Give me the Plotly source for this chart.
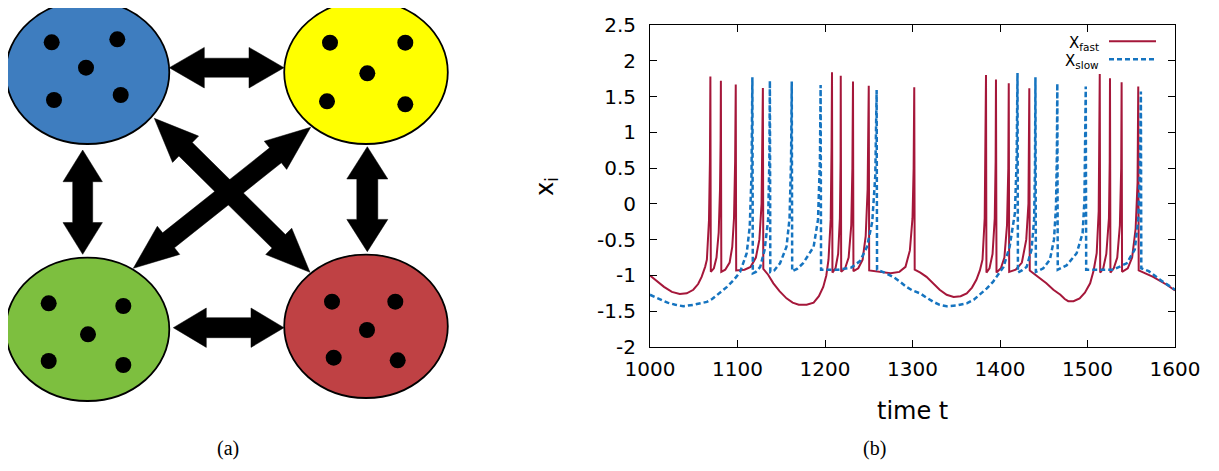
import plotly.graph_objects as go

# page offset of the plot div (body margin) and figure size
OX, OY = 8, 8
W, H = 1219 - OX, 471 - OY

# ---------------- chart data ----------------
t_fast = [1000, 1008, 1016, 1025, 1034, 1042, 1049.5, 1055, 1059, 1063, 1065, 1067.4, 1068.5, 1069,
          1069.5, 1073, 1076, 1078.5, 1080, 1080.7, 1081,
          1081.5, 1086, 1091, 1094, 1096, 1097.3, 1098,
          1098.5, 1108, 1115, 1121, 1125, 1127.5, 1128.5, 1129,
          1129.5, 1135, 1141, 1148, 1156, 1163, 1170, 1179, 1187, 1193, 1198, 1201.5, 1204, 1206.5, 1207.5, 1208,
          1208.5, 1212, 1215, 1217, 1217.8, 1218,
          1218.5, 1223, 1227, 1230, 1231.3, 1232,
          1232.5, 1238, 1243, 1246.5, 1248.7, 1249.7, 1250,
          1250.5, 1262, 1275, 1285, 1292, 1297, 1300, 1301.3, 1302,
          1302.5, 1309, 1316, 1323, 1331, 1339, 1347, 1355, 1362, 1368, 1373, 1377, 1380, 1382.5, 1383.5, 1384,
          1384.5, 1388, 1391.5, 1394, 1395, 1395.4,
          1396, 1401, 1405, 1408, 1409.5, 1410,
          1410.5, 1418, 1425, 1430, 1432.5, 1433.3, 1433.5,
          1434, 1443, 1453, 1461, 1469, 1474, 1478, 1484, 1491, 1497, 1503, 1507, 1510.5, 1512.8, 1513.6, 1514,
          1514.5, 1518, 1521.5, 1524.5, 1525.4, 1525.7,
          1526.2, 1530, 1534, 1537, 1538.5, 1539,
          1539.5, 1546, 1551, 1555, 1557.2, 1558,
          1558.5, 1575, 1590.5, 1600]
x_fast = [-1.00, -1.08, -1.16, -1.23, -1.26, -1.25, -1.20, -1.12, -1.02, -0.88, -0.78, -0.23, 0.60, 1.78,
          -0.95, -0.90, -0.75, -0.40, 0.20, 0.90, 1.72,
          -0.95, -0.92, -0.82, -0.60, -0.20, 0.60, 1.67,
          -0.93, -0.92, -0.88, -0.75, -0.50, 0.00, 0.70, 1.62,
          -0.91, -0.99, -1.11, -1.22, -1.32, -1.38, -1.41, -1.41, -1.38, -1.29, -1.16, -1.00, -0.78, -0.22, 0.80, 1.84,
          -0.96, -0.90, -0.70, -0.20, 0.60, 1.79,
          -0.95, -0.90, -0.75, -0.30, 0.50, 1.71,
          -0.94, -0.90, -0.78, -0.45, 0.20, 1.00, 1.65,
          -0.93, -0.95, -0.97, -0.95, -0.88, -0.65, -0.20, 0.50, 1.63,
          -0.92, -0.96, -1.02, -1.11, -1.20, -1.27, -1.30, -1.29, -1.25, -1.17, -1.06, -0.93, -0.78, -0.20, 0.70, 1.80,
          -0.96, -0.90, -0.70, -0.20, 0.60, 1.74,
          -0.96, -0.90, -0.75, -0.30, 0.50, 1.685,
          -0.95, -0.92, -0.82, -0.50, 0.00, 0.90, 1.615,
          -0.93, -1.01, -1.11, -1.20, -1.27, -1.33, -1.36, -1.36, -1.32, -1.24, -1.11, -0.93, -0.69, -0.10, 0.80, 1.815,
          -0.96, -0.90, -0.70, -0.20, 0.60, 1.755,
          -0.96, -0.90, -0.75, -0.30, 0.50, 1.70,
          -0.95, -0.90, -0.75, -0.35, 0.30, 1.64,
          -0.93, -1.02, -1.13, -1.21]

t_slow = [1000, 1010, 1020, 1029, 1038, 1050, 1058, 1065, 1071, 1076, 1082, 1088, 1096, 1103, 1110.5, 1114, 1116, 1117,
          1117.5, 1121, 1126, 1131, 1135, 1136.4, 1137,
          1137.5, 1142, 1148.6, 1156, 1159.5, 1161.2, 1162,
          1162.5, 1168, 1175, 1187, 1192, 1194.2, 1195,
          1195.5, 1215, 1230, 1240, 1248, 1254, 1257.5, 1259,
          1259.5, 1268, 1278, 1286, 1293, 1300, 1308.6, 1316, 1324, 1331, 1339, 1350, 1362, 1370, 1377, 1385,
          1392, 1398, 1404, 1411, 1417, 1419, 1420,
          1420.5, 1425, 1430.5, 1436, 1439, 1440, 1440.5,
          1441, 1449.5, 1457, 1461.7, 1464, 1465, 1465.5,
          1466, 1476, 1487.6, 1494.4, 1496.5, 1497.5, 1498,
          1498.5, 1529.5, 1544.8, 1554, 1558, 1560, 1561,
          1561.5, 1570, 1583, 1600]
x_slow = [-1.27, -1.33, -1.38, -1.41, -1.43, -1.41, -1.39, -1.37, -1.33, -1.28, -1.22, -1.16, -1.06, -0.95, -0.69, -0.32, 0.40, 1.77,
          -0.97, -0.95, -0.88, -0.64, -0.22, 0.60, 1.72,
          -0.95, -0.93, -0.83, -0.60, -0.20, 0.60, 1.71,
          -0.94, -0.91, -0.83, -0.60, -0.22, 0.60, 1.66,
          -0.92, -0.92, -0.89, -0.80, -0.60, -0.25, 0.40, 1.59,
          -0.92, -0.96, -1.02, -1.09, -1.16, -1.21, -1.25, -1.31, -1.37, -1.41, -1.43, -1.42, -1.39, -1.34, -1.27, -1.18,
          -1.09, -0.99, -0.88, -0.60, -0.13, 0.60, 1.83,
          -0.96, -0.93, -0.88, -0.64, -0.22, 0.50, 1.77,
          -0.95, -0.90, -0.78, -0.50, -0.04, 0.70, 1.685,
          -0.92, -0.86, -0.69, -0.41, 0.05, 0.80, 1.64,
          -0.92, -0.92, -0.83, -0.64, -0.22, 0.50, 1.57,
          -0.90, -0.94, -1.06, -1.20]

x_tickvals = [1000, 1100, 1200, 1300, 1400, 1500, 1600]
x_ticktext = ["1000", "1100", "1200", "1300", "1400", "1500", "1600"]
y_tickvals = [-2, -1.5, -1, -0.5, 0, 0.5, 1, 1.5, 2, 2.5]
y_ticktext = ["-2", "-1.5", "-1", "-0.5", "0", "0.5", "1", "1.5", "2", "2.5"]

series_names = ["X<sub>fast</sub>", "X<sub>slow</sub>"]
series_colors = ["#a5173a", "#1574c0"]

# ---------------- diagram description (panel a) ----------------
group_centers = [(87.5, 72.3), (366.0, 72.3), (87.5, 329.3), (366.0, 326.3)]
group_colors = ["#3e7dbf", "#ffff00", "#7dbf3f", "#bf4144"]
group_rx, group_ry = 81.8, 71.7
group_dots = [
    [(51.7, 42.3), (117.3, 39.3), (86.0, 67.7), (54.0, 100.0), (120.7, 95.0)],
    [(330.0, 42.7), (405.3, 42.7), (367.3, 73.3), (327.0, 101.3), (405.3, 104.3)],
    [(48.7, 303.3), (123.3, 306.0), (88.0, 334.3), (48.7, 361.0), (123.3, 365.0)],
    [(332.0, 301.7), (395.3, 301.7), (367.0, 330.0), (333.7, 357.7), (397.7, 360.3)],
]
dot_r = 8.0
# arrows: (start tip, end tip, shaft half width, head half width, head length)
arrows = [
    ((169.3, 67.7), (284.0, 67.7), 9.5, 20.3, 35.0),
    ((173.3, 327.7), (284.0, 327.7), 10.0, 19.7, 33.0),
    ((82.7, 150.0), (82.7, 254.3), 10.0, 19.7, 31.7),
    ((367.3, 146.7), (367.3, 251.7), 10.5, 20.5, 32.3),
    ((133.3, 268.3), (310.7, 127.3), 9.5, 18.0, 45.0),
    ((154.3, 118.3), (310.0, 272.3), 9.5, 18.5, 44.0),
]


def fx(x):
    return (x - OX) / W


def fy(y):
    return 1 - (y - OY) / H


fig = go.Figure()
fig.add_trace(go.Scatter(x=t_fast, y=x_fast, mode="lines", name=series_names[0],
                         line=dict(color=series_colors[0], width=2), showlegend=False))
fig.add_trace(go.Scatter(x=t_slow, y=x_slow, mode="lines", name=series_names[1],
                         line=dict(color=series_colors[1], width=2.5, dash="5px,3px"),
                         showlegend=False))

shapes = []
for (cx, cy), col in zip(group_centers, group_colors):
    shapes.append(dict(type="circle", xref="paper", yref="paper",
                       x0=fx(cx - group_rx), x1=fx(cx + group_rx),
                       y0=fy(cy + group_ry), y1=fy(cy - group_ry),
                       fillcolor=col, line=dict(color="black", width=1.8)))
for dots in group_dots:
    for (dx, dy) in dots:
        shapes.append(dict(type="circle", xref="paper", yref="paper",
                           x0=fx(dx - dot_r), x1=fx(dx + dot_r),
                           y0=fy(dy + dot_r), y1=fy(dy - dot_r),
                           fillcolor="black", line=dict(color="black", width=0)))


def arrow_path(p1, p2, sw, hw, hl):
    (x1, y1), (x2, y2) = p1, p2
    L = ((x2 - x1) ** 2 + (y2 - y1) ** 2) ** 0.5
    ux, uy = (x2 - x1) / L, (y2 - y1) / L
    nx, ny = -uy, ux
    a = (x1 + ux * hl, y1 + uy * hl)
    b = (x2 - ux * hl, y2 - uy * hl)
    pts = [p1,
           (a[0] + nx * hw, a[1] + ny * hw), (a[0] + nx * sw, a[1] + ny * sw),
           (b[0] + nx * sw, b[1] + ny * sw), (b[0] + nx * hw, b[1] + ny * hw),
           p2,
           (b[0] - nx * hw, b[1] - ny * hw), (b[0] - nx * sw, b[1] - ny * sw),
           (a[0] - nx * sw, a[1] - ny * sw), (a[0] - nx * hw, a[1] - ny * hw)]
    s = "M " + " L ".join(f"{fx(px):.5f},{fy(py):.5f}" for px, py in pts) + " Z"
    return s


for p1, p2, sw, hw, hl in arrows:
    shapes.append(dict(type="path", xref="paper", yref="paper",
                       path=arrow_path(p1, p2, sw, hw, hl),
                       fillcolor="black", line=dict(color="black", width=0.5)))

# legend samples (text left, line right, as in the reference)
leg_y = [41.3, 59.3]
for i in range(2):
    shapes.append(dict(type="line", xref="paper", yref="paper",
                       x0=fx(1109), x1=fx(1156), y0=fy(leg_y[i]), y1=fy(leg_y[i]),
                       line=dict(color=series_colors[i], width=2 if i == 0 else 2.5,
                                 dash="solid" if i == 0 else "5px,3px")))

annotations = [
    dict(text=series_names[0], x=fx(1101), y=fy(43), xref="paper", yref="paper",
         xanchor="right", yanchor="middle", showarrow=False,
         font=dict(family="DejaVu Sans", size=15, color="black")),
    dict(text=series_names[1], x=fx(1101), y=fy(61), xref="paper", yref="paper",
         xanchor="right", yanchor="middle", showarrow=False,
         font=dict(family="DejaVu Sans", size=15, color="black")),
    dict(text="time t", x=fx(913), y=fy(411), xref="paper", yref="paper",
         xanchor="center", yanchor="middle", showarrow=False,
         font=dict(family="DejaVu Sans", size=24, color="black")),
    dict(text="x<sub>i</sub>", x=fx(547), y=fy(187), xref="paper", yref="paper",
         xanchor="center", yanchor="middle", showarrow=False, textangle=-90,
         font=dict(family="DejaVu Sans", size=24, color="black")),
    dict(text="(a)", x=fx(228), y=fy(448), xref="paper", yref="paper",
         xanchor="center", yanchor="middle", showarrow=False,
         font=dict(family="Liberation Serif", size=20, color="black")),
    dict(text="(b)", x=fx(875), y=fy(448), xref="paper", yref="paper",
         xanchor="center", yanchor="middle", showarrow=False,
         font=dict(family="Liberation Serif", size=20, color="black")),
]

axis_common = dict(showgrid=False, zeroline=False, showline=True, linecolor="black",
                   linewidth=1, mirror="ticks", ticks="inside", ticklen=7,
                   tickcolor="black", tickwidth=1, automargin=False,
                   tickfont=dict(family="DejaVu Sans", size=20, color="black"))

fig.update_layout(
    width=W, height=H, autosize=False,
    margin=dict(l=0, r=0, t=0, b=0, pad=0, autoexpand=False),
    paper_bgcolor="white", plot_bgcolor="white",
    showlegend=False,
    shapes=shapes, annotations=annotations,
    xaxis=dict(domain=[fx(650), fx(1175)], range=[1000, 1600],
               tickvals=x_tickvals, ticktext=x_ticktext, ticklabelstandoff=4, **axis_common),
    yaxis=dict(domain=[fy(347), fy(25)], range=[-2, 2.5],
               tickvals=y_tickvals, ticktext=y_ticktext, ticklabelstandoff=9, **axis_common),
)

fig.write_html("out.html")
